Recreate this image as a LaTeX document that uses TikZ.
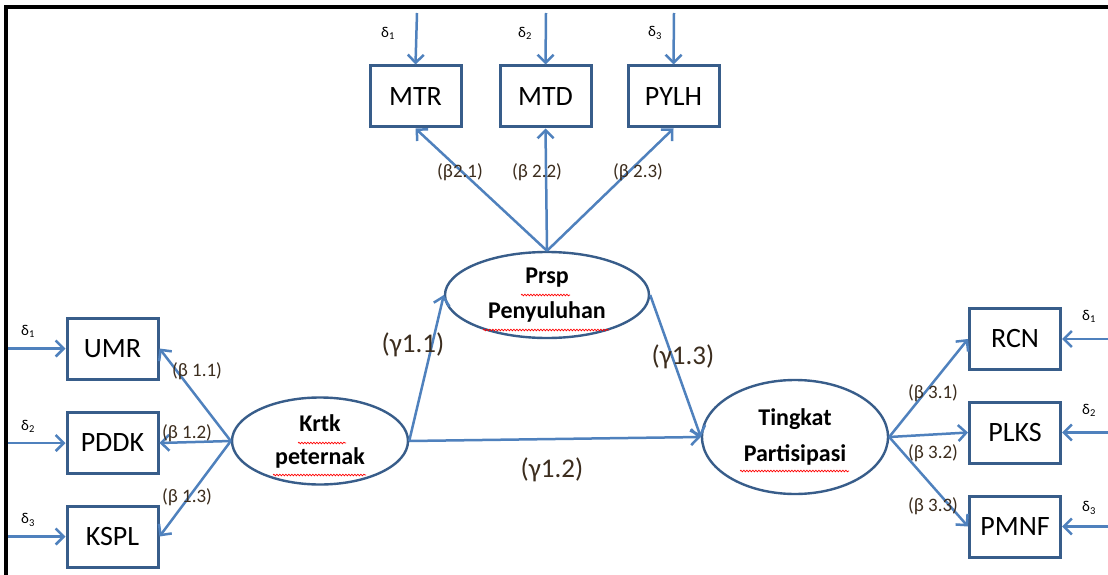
\documentclass[tikz,border=0pt]{standalone}
\usepackage{fontspec}
\setmainfont{Carlito}
\usetikzlibrary{arrows.meta,shapes.geometric,decorations.pathmorphing}
\definecolor{pathblue}{HTML}{4F81BD}
\definecolor{edgeblue}{HTML}{385D8A}
\definecolor{labbrown}{RGB}{60,45,30}

\begin{document}
\begin{tikzpicture}[x=1pt,y=-1pt,
    obs/.style={draw=edgeblue,line width=3pt,fill=white,minimum width=91pt,minimum height=61pt,inner sep=0pt,font=\fontsize{28}{30}\selectfont},
    lat/.style={ellipse,draw=edgeblue,line width=2.4pt,fill=white,inner sep=0pt,align=center},
    link/.style={draw=pathblue,line width=2.5pt,-{Straight Barb[length=8pt,width=16pt]}},
    coef/.style={text=labbrown,font=\fontsize{19}{20}\selectfont,inner sep=0pt},
    gam/.style={text=labbrown,font=\fontsize{27}{28}\selectfont,inner sep=0pt},
    err/.style={font=\fontsize{15}{15}\selectfont,inner sep=0pt},
    typo/.style={draw=red,line width=0.7pt,decorate,decoration={snake,amplitude=0.8pt,segment length=3pt}}]
    \useasboundingbox[fill=white] (0,0) rectangle (1108,575);
    \draw[line width=4pt] (6,575) -- (6,7) -- (1108,7);
    % observed indicators
    \node[obs] (mtr) at (415.5,96.5) {MTR};
    \node[obs] (mtd) at (545.5,96.5) {MTD};
    \node[obs] (pylh) at (673.5,96.5) {PYLH};
    \node[obs] (umr) at (112.5,348.5) {UMR};
    \node[obs] (pddk) at (112.5,443) {PDDK};
    \node[obs] (kspl) at (112.5,536.5) {KSPL};
    \node[obs] (rcn) at (1015,339) {RCN};
    \node[obs] (plks) at (1015,432.5) {PLKS};
    \node[obs] (pmnf) at (1015,526.5) {PMNF};
    % latent variables
    \node[lat,minimum width=204pt,minimum height=86pt,font=\fontsize{24}{35}\selectfont\bfseries] (prsp) at (547,295) {Prsp\\Penyuluhan};
    \node[lat,minimum width=176pt,minimum height=87pt,font=\fontsize{24}{33}\selectfont\bfseries] (krtk) at (320,441) {Krtk\\peternak};
    \node[lat,minimum width=186pt,minimum height=114pt,font=\fontsize{24}{36}\selectfont\bfseries] (ting) at (795,437) {Tingkat\\Partisipasi};
    % error terms
    \coordinate (etop1) at (417,13);
    \coordinate (etop2) at (546,13);
    \coordinate (etop3) at (674,13);
    \coordinate (eleft1) at (8,348.5);
    \coordinate (eleft2) at (8,443);
    \coordinate (eleft3) at (8,536.5);
    \coordinate (eright1) at (1108,339);
    \coordinate (eright2) at (1108,432.5);
    \coordinate (eright3) at (1108,526.5);
    \draw[link] (etop1) -- (mtr.north);
    \draw[link] (etop2) -- (mtd.north);
    \draw[link] (etop3) -- (pylh.north);
    \draw[link] (eleft1) -- (umr.west);
    \draw[link] (eleft2) -- (pddk.west);
    \draw[link] (eleft3) -- (kspl.west);
    \draw[link] (eright1) -- (rcn.east);
    \draw[link] (eright2) -- (plks.east);
    \draw[link] (eright3) -- (pmnf.east);
    % loadings and paths
    \draw[link] (prsp.north) -- (mtr.south);
    \draw[link] (prsp.north) -- (mtd.south);
    \draw[link] (prsp.north) -- (pylh.south);
    \draw[link] (krtk.west) -- (umr.east);
    \draw[link] (krtk.west) -- (pddk.east);
    \draw[link] (krtk.west) -- (kspl.east);
    \draw[link] (ting.east) -- (rcn.west);
    \draw[link] (ting.east) -- (plks.west);
    \draw[link] (ting.east) -- (pmnf.west);
    \draw[link] (krtk.east) -- (prsp.west);
    \draw[link] (krtk.east) -- (ting.west);
    \draw[link] (prsp.east) -- (ting.west);
    % labels
    \node[err] (dt1) at (388,33) {δ\textsubscript{1}};
    \node[err] (dt2) at (525,33) {δ\textsubscript{2}};
    \node[err] (dt3) at (655,33) {δ\textsubscript{3}};
    \node[err] (dl1) at (28,331) {δ\textsubscript{1}};
    \node[err] (dl2) at (28,426) {δ\textsubscript{2}};
    \node[err] (dl3) at (28,520) {δ\textsubscript{3}};
    \node[err] (dr1) at (1089,316) {δ\textsubscript{1}};
    \node[err] (dr2) at (1089,410) {δ\textsubscript{2}};
    \node[err] (dr3) at (1089,508) {δ\textsubscript{3}};
    \node[coef] (b21) at (460,172) {(β2.1)};
    \node[coef] (b22) at (537,172) {(β 2.2)};
    \node[coef] (b23) at (638,172) {(β 2.3)};
    \node[coef] (b11) at (197,371) {(β 1.1)};
    \node[coef] (b12) at (187,433) {(β 1.2)};
    \node[coef] (b13) at (187,497) {(β 1.3)};
    \node[coef] (b31) at (933,393) {(β 3.1)};
    \node[coef] (b32) at (933,453) {(β 3.2)};
    \node[coef] (b33) at (933,506) {(β 3.3)};
    \node[gam] (g11) at (413,345) {(γ1.1)};
    \node[gam] (g12) at (552,470) {(γ1.2)};
    \node[gam] (g13) at (683,357) {(γ1.3)};
    % spelling marks
    \draw[typo] (298,443) -- (346,443);
    \draw[typo] (273,475) -- (366,475);
    \draw[typo] (521,295) -- (570,295);
    \draw[typo] (483,330) -- (609,330);
    \draw[typo] (740,471) -- (849,471);
\end{tikzpicture}
\end{document}
